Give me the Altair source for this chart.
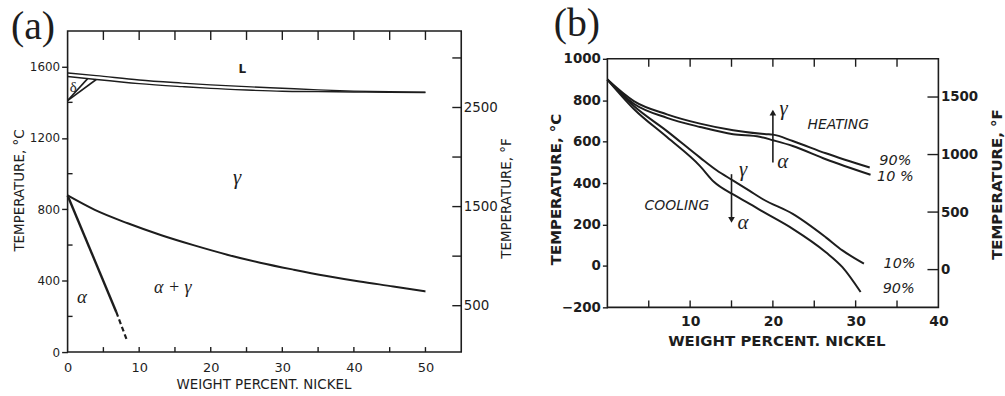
import altair as alt
import pandas as pd

INK = "#1d1d1d"
SANS = "DejaVu Sans"
SERIF = "Liberation Serif"

# ---------------- panel (a): Fe-Ni equilibrium diagram ----------------
A_NI = [0, 4, 10, 16, 20, 25, 30, 35, 40, 45, 50]
A_LIQUIDUS = [1565, 1550, 1525, 1508, 1498, 1488, 1479, 1470, 1463, 1459, 1457]
A_SOLIDUS = [1545, 1528, 1505, 1488, 1478, 1469, 1462, 1460, 1458, 1456, 1455]
A_DELTA1_NI = [0, 4.0]
A_DELTA1_T = [1410, 1528]
A_DELTA2_NI = [0, 2.8]
A_DELTA2_T = [1410, 1533]
A_A3_NI = [0, 3.8, 8.4, 13.1, 17.7, 22.3, 26.9, 31.6, 36.2, 40.8, 45.5, 50]
A_A3_T = [878, 797, 722, 655, 598, 546, 501, 462, 427, 396, 368, 340]
A_ALPHA_NI = [0, 6.8]
A_ALPHA_T = [878, 225]
A_ALPHA_DASH_NI = [6.8, 8.3]
A_ALPHA_DASH_T = [225, 65]

A_X_LABELS = [0, 10, 20, 30, 40, 50]
A_X_TICKS = [5, 10, 15, 20, 25, 30, 35, 40, 45, 50]
A_YC_LABELS = [0, 400, 800, 1200, 1600]
A_YC_MINOR = [200, 600, 1000, 1400]
A_YF_LABELS = [500, 1500, 2500]
A_YF_TICKS = [500, 1000, 1500, 2000, 2500, 3000]

A_LBL_L = ("L", 24.4, 1588)
A_LBL_DELTA = ("δ", 0.8, 1488)
A_LBL_GAMMA = ("γ", 23.7, 975)
A_LBL_AG = ("α + γ", 14.7, 360)
A_LBL_ALPHA = ("α", 2.0, 310)

# ---------------- panel (b): heating / cooling transformation curves ----------------
B_HEAT90_NI = [0, 3.2, 7.2, 11.2, 15.2, 19.2, 20.0, 22.4, 26.4, 31.7]
B_HEAT90_T = [900, 796, 732, 687, 655, 636, 634, 603, 544, 475]
B_HEAT10_NI = [0, 3.2, 7.2, 11.2, 15.2, 18.4, 20.0, 22.4, 26.4, 31.8]
B_HEAT10_T = [900, 783, 715, 671, 636, 624, 607, 579, 515, 440]
B_COOL10_NI = [0, 3.2, 7.2, 11.2, 13.2, 15.2, 17.2, 18.8, 22.4, 26.4, 28.4, 31.0]
B_COOL10_T = [900, 772, 651, 523, 462, 412, 362, 322, 251, 138, 75, 11]
B_COOL90_NI = [0, 3.2, 7.2, 11.2, 12.9, 15.2, 17.2, 18.8, 22.4, 26.4, 28.4, 30.6]
B_COOL90_T = [900, 758, 622, 482, 405, 345, 300, 262, 179, 66, -6, -126]

B_X_LABELS = [10, 20, 30, 40]
B_X_TICKS = [5, 10, 15, 20, 25, 30, 35]
B_YC_LABELS = [-200, 0, 200, 400, 600, 800, 1000]
B_YF_LABELS = [0, 500, 1000, 1500]

B_COOL_ARROW = (15.0, 443, 222)   # ni, from T, to T
B_HEAT_ARROW = (20.0, 499, 740)

B_LBL_GREEK = [("γ", 16.4, 462), ("α", 16.4, 205), ("γ", 21.3, 758), ("α", 21.2, 500)]
B_LBL_WORDS = [("COOLING", 8.4, 291), ("HEATING", 27.9, 680)]
B_LBL_PCT = [("90%", 34.8, 507), ("10 %", 34.8, 427), ("10%", 35.3, 11), ("90%", 35.2, -110)]

WA, HA = 396, 323
WB, HB = 333, 250


def seg(ni, t, key="s"):
    return pd.DataFrame({"ni": ni, "t": t, "k": [key] * len(ni)})


def x_enc(domain, values, lsize, lweight, lpad, tsize, tweight, tx, ty):
    return alt.X(
        "ni:Q",
        scale=alt.Scale(domain=domain, nice=False, zero=False),
        axis=alt.Axis(values=values, format="d", ticks=False, domain=False, grid=False,
                      labelFont=SANS, labelFontSize=lsize, labelFontWeight=lweight,
                      labelColor=INK, labelPadding=lpad, labelFlush=False, labelOverlap=False,
                      title="WEIGHT PERCENT. NICKEL", titleFont=SANS, titleFontSize=tsize,
                      titleFontWeight=tweight, titleColor=INK, titleX=tx, titleY=ty,
                      titleAlign="center", titleBaseline="middle"),
    )


def y_enc(domain, values, lsize, lweight, tick, tsize, tweight, tx, ty):
    return alt.Y(
        "t:Q",
        scale=alt.Scale(domain=domain, nice=False, zero=False),
        axis=alt.Axis(values=values, format="d", tickSize=tick, tickColor=INK, tickWidth=1.4,
                      domain=False, grid=False, labelFont=SANS, labelFontSize=lsize,
                      labelFontWeight=lweight, labelColor=INK, labelPadding=2,
                      labelFlush=False, labelOverlap=False,
                      title="TEMPERATURE, °C", titleFont=SANS, titleFontSize=tsize,
                      titleFontWeight=tweight, titleColor=INK, titleAngle=270,
                      titleX=tx, titleY=ty, titleAlign="center", titleBaseline="middle"),
    )


def f_enc(domain, values, lsize, lweight, tsize, tweight, tx, ty):
    return alt.Y(
        "f:Q",
        scale=alt.Scale(domain=domain, nice=False, zero=False),
        axis=alt.Axis(orient="right", values=values, format="d", ticks=False, domain=False,
                      grid=False, labelFont=SANS, labelFontSize=lsize, labelFontWeight=lweight,
                      labelColor=INK, labelPadding=2, labelFlush=False, labelOverlap=False,
                      title="TEMPERATURE, °F", titleFont=SANS, titleFontSize=tsize,
                      titleFontWeight=tweight, titleColor=INK, titleAngle=270,
                      titleX=tx, titleY=ty, titleAlign="center", titleBaseline="middle"),
    )


def text_layer(items, X, Y, **kw):
    df = pd.DataFrame({"s": [i[0] for i in items], "ni": [i[1] for i in items],
                       "t": [i[2] for i in items]})
    return alt.Chart(df).mark_text(color=INK, align="center", baseline="middle", **kw).encode(
        x=X, y=Y, text="s:N")


# ---------------- build panel (a) ----------------
XA = x_enc([0, 55], A_X_LABELS, 13, "normal", 10, 13.5, "normal", 197, 33)
YA = y_enc([0, 1800], A_YC_LABELS, 12, "normal", 6, 13.5, "normal", -48, 160)
FA = f_enc([32, 3272], A_YF_LABELS, 13.5, "normal", 13.5, "normal", 46, 168)

a_thin = alt.Chart(pd.concat([seg(A_NI, A_LIQUIDUS, "liq"), seg(A_NI, A_SOLIDUS, "sol")])).mark_line(
    color=INK, strokeWidth=1.4, interpolate="monotone").encode(x=XA, y=YA, detail="k:N")
a_delta = alt.Chart(pd.concat([seg(A_DELTA1_NI, A_DELTA1_T, "d1"), seg(A_DELTA2_NI, A_DELTA2_T, "d2")])).mark_line(
    color=INK, strokeWidth=1.6).encode(x=XA, y=YA, detail="k:N")
a_a3 = alt.Chart(seg(A_A3_NI, A_A3_T)).mark_line(color=INK, strokeWidth=2.0, interpolate="monotone").encode(
    x=XA, y=YA)
a_alpha = alt.Chart(seg(A_ALPHA_NI, A_ALPHA_T)).mark_line(color=INK, strokeWidth=2.4).encode(x=XA, y=YA)
a_alpha_d = alt.Chart(seg(A_ALPHA_DASH_NI, A_ALPHA_DASH_T)).mark_line(
    color=INK, strokeWidth=2.2, strokeDash=[5, 3]).encode(x=XA, y=YA)

a_tick_bot = alt.Chart(pd.DataFrame({"ni": A_X_TICKS})).mark_rule(color=INK, strokeWidth=1.4).encode(
    x=XA, y=alt.value(HA), y2=alt.value(HA - 5))
a_tick_top = alt.Chart(pd.DataFrame({"ni": A_X_TICKS})).mark_rule(color=INK, strokeWidth=1.4).encode(
    x=XA, y=alt.value(0), y2=alt.value(9))
a_tick_left = alt.Chart(pd.DataFrame({"t": A_YC_MINOR})).mark_rule(color=INK, strokeWidth=1.4).encode(
    y=YA, x=alt.value(0), x2=alt.value(5))

a_txt = alt.layer(
    text_layer([A_LBL_L], XA, YA, font=SANS, fontSize=12, fontWeight="bold"),
    text_layer([A_LBL_DELTA], XA, YA, font=SERIF, fontSize=15),
    text_layer([A_LBL_GAMMA], XA, YA, font=SERIF, fontSize=21, fontStyle="italic"),
    text_layer([A_LBL_AG], XA, YA, font=SERIF, fontSize=18, fontStyle="italic"),
    text_layer([A_LBL_ALPHA], XA, YA, font=SERIF, fontSize=19, fontStyle="italic"),
)
a_panel_lbl = alt.Chart(pd.DataFrame({"s": ["(a)"]})).mark_text(
    font=SERIF, fontSize=40, align="left", baseline="alphabetic", color=INK).encode(
    text="s:N", x=alt.value(-57), y=alt.value(8))

a_inner = alt.layer(a_thin, a_delta, a_a3, a_alpha, a_alpha_d, a_tick_bot, a_tick_top, a_tick_left,
                    a_txt, a_panel_lbl)
a_f = alt.Chart(pd.DataFrame({"f": A_YF_TICKS})).mark_rule(color=INK, strokeWidth=1.4).encode(
    y=FA, x=alt.value(WA - 9), x2=alt.value(WA))
chart_a = alt.layer(a_inner, a_f).resolve_scale(y="independent").properties(width=WA, height=HA)

# ---------------- build panel (b) ----------------
XB = x_enc([0, 40], B_X_LABELS, 14, "bold", 7, 15, "bold", 170, 33)
YB = y_enc([-200, 1000], B_YC_LABELS, 13.5, "bold", 5, 15, "bold", -52, 131)
FB = f_enc([-328, 1832], B_YF_LABELS, 13.5, "bold", 15, "bold", 58, 126)

b_curves = alt.Chart(pd.concat([
    seg(B_HEAT90_NI, B_HEAT90_T, "h90"), seg(B_HEAT10_NI, B_HEAT10_T, "h10"),
    seg(B_COOL10_NI, B_COOL10_T, "c10"), seg(B_COOL90_NI, B_COOL90_T, "c90"),
])).mark_line(color=INK, strokeWidth=2.0, interpolate="monotone").encode(x=XB, y=YB, detail="k:N")

arrows = pd.DataFrame({"ni": [B_COOL_ARROW[0], B_HEAT_ARROW[0]],
                       "t": [B_COOL_ARROW[1], B_HEAT_ARROW[1]],
                       "t2": [B_COOL_ARROW[2], B_HEAT_ARROW[2]]})
b_arrow_shaft = alt.Chart(arrows).mark_rule(color=INK, strokeWidth=1.6).encode(x=XB, y=YB, y2="t2:Q")
b_head_down = alt.Chart(pd.DataFrame({"ni": [B_COOL_ARROW[0]], "t": [B_COOL_ARROW[2]]})).mark_point(
    shape="triangle-down", filled=True, size=45, color=INK, opacity=1).encode(x=XB, y=YB)
b_head_up = alt.Chart(pd.DataFrame({"ni": [B_HEAT_ARROW[0]], "t": [B_HEAT_ARROW[2]]})).mark_point(
    shape="triangle-up", filled=True, size=45, color=INK, opacity=1).encode(x=XB, y=YB)

b_tick_bot = alt.Chart(pd.DataFrame({"ni": B_X_TICKS})).mark_rule(color=INK, strokeWidth=1.4).encode(
    x=XB, y=alt.value(HB), y2=alt.value(HB - 7))
b_tick_top = alt.Chart(pd.DataFrame({"ni": B_X_TICKS})).mark_rule(color=INK, strokeWidth=1.4).encode(
    x=XB, y=alt.value(0), y2=alt.value(8))

b_txt = alt.layer(
    text_layer(B_LBL_GREEK, XB, YB, font=SERIF, fontSize=21, fontStyle="italic"),
    text_layer(B_LBL_WORDS, XB, YB, font=SANS, fontSize=14, fontStyle="italic"),
    text_layer(B_LBL_PCT, XB, YB, font=SANS, fontSize=14.5, fontStyle="italic"),
)

b_inner = alt.layer(b_curves, b_arrow_shaft, b_head_down, b_head_up, b_tick_bot, b_tick_top, b_txt)
b_f = alt.Chart(pd.DataFrame({"f": B_YF_LABELS})).mark_rule(color=INK, strokeWidth=1.4).encode(
    y=FB, x=alt.value(WB - 11), x2=alt.value(WB))
chart_b = alt.layer(b_inner, b_f).resolve_scale(y="independent").properties(width=WB, height=HB)

b_spacer = alt.Chart(pd.DataFrame({"s": ["(b)"]})).mark_text(
    font=SERIF, fontSize=40, align="left", baseline="alphabetic", color=INK).encode(
    text="s:N", x=alt.value(-54), y=alt.value(5)).properties(
    width=WB, height=20, view=alt.ViewBackground(strokeOpacity=0, strokeWidth=0))

right = alt.vconcat(b_spacer, chart_b, spacing=0)

chart = alt.hconcat(chart_a, right, spacing=33).properties(
    padding={"left": 10, "top": 3, "right": 0, "bottom": 0}, background="white"
).configure_view(stroke=INK, strokeWidth=1.6)

chart.save("out.html", embed_options={"renderer": "svg", "actions": False})
